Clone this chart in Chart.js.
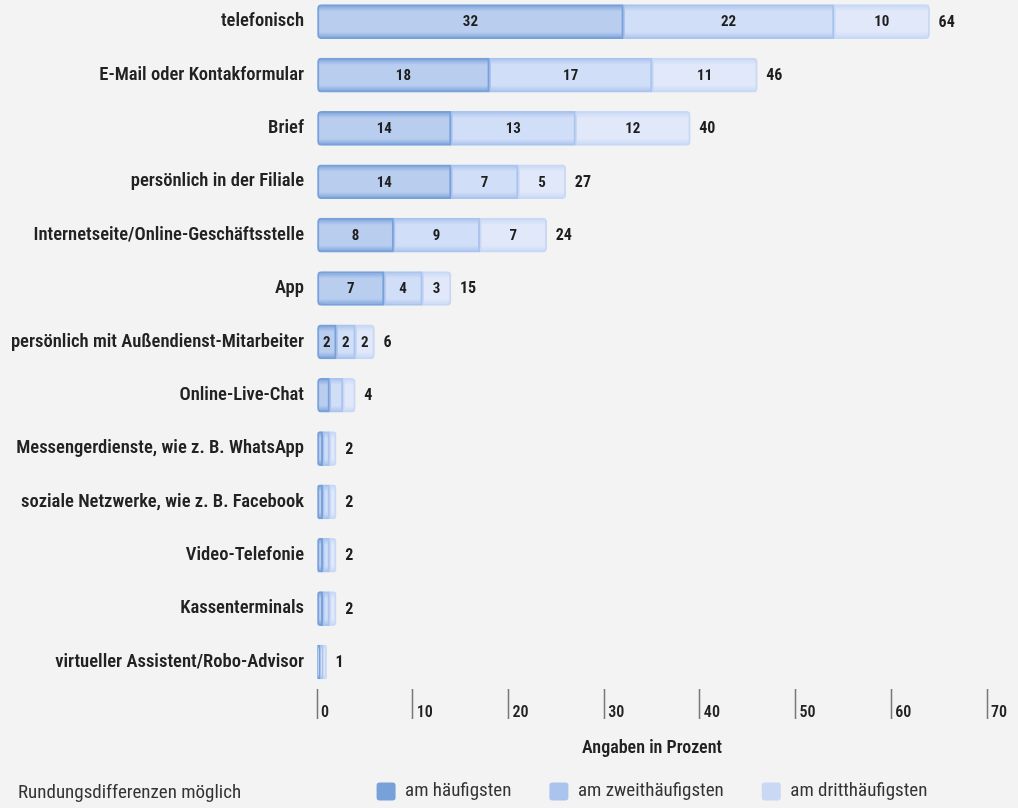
<!DOCTYPE html>
<html>
<head>
<meta charset="utf-8">
<script src="https://cdn.jsdelivr.net/npm/chart.js@4.4.0/dist/chart.umd.min.js"></script>
<style>
  html, body { margin: 0; padding: 0; background: #f2f3f2; }
  canvas { display: block; }
</style>
</head>
<body>
<canvas id="chart" width="1018" height="808"></canvas>
<script>
// Data
const categories = [
    "telefonisch",
    "E-Mail oder Kontakformular",
    "Brief",
    "persönlich in der Filiale",
    "Internetseite/Online-Geschäftsstelle",
    "App",
    "persönlich mit Außendienst-Mitarbeiter",
    "Online-Live-Chat",
    "Messengerdienste, wie z. B. WhatsApp",
    "soziale Netzwerke, wie z. B. Facebook",
    "Video-Telefonie",
    "Kassenterminals",
    "virtueller Assistent/Robo-Advisor"
];
const mostOften   = [32, 18, 14, 14, 8, 7, 2, 1.3, 0.6, 0.6, 0.6, 0.6, 0.3];
const secondOften = [22, 17, 13, 7, 9, 4, 2, 1.4, 0.7, 0.7, 0.7, 0.7, 0.3];
const thirdOften  = [10, 11, 12, 5, 7, 3, 2, 1.3, 0.7, 0.7, 0.7, 0.7, 0.4];
const totals      = [64, 46, 40, 27, 24, 15, 6, 4, 2, 2, 2, 2, 1];
const xTicks = [0, 10, 20, 30, 40, 50, 60, 70];
const seriesNames = ["am häufigsten", "am zweithäufigsten", "am dritthäufigsten"];
const axisTitle = "Angaben in Prozent";
const footnote = "Rundungsdifferenzen möglich";

const FONT = "'Roboto Condensed', 'DejaVu Sans Condensed', sans-serif";
Chart.defaults.font.family = FONT;
Chart.defaults.color = "#222";

const BAR_H = 34;
const innerColors = ["#b9cdef", "#d1def7", "#e0e8fa"];
const edgeColors = ["#78a1da", "#abc4ee", "#c8d8f5"];

// bars get a soft darker edge at top and bottom
function glow(i) {
    return (context) => {
        const chart = context.chart;
        const ys = chart.scales.y;
        if (!ys || context.type !== "data") return innerColors[i];
        const yc = ys.getPixelForValue(context.dataIndex);
        const g = chart.ctx.createLinearGradient(0, yc - BAR_H / 2, 0, yc + BAR_H / 2);
        g.addColorStop(0, edgeColors[i]);
        g.addColorStop(0.2, innerColors[i]);
        g.addColorStop(0.8, innerColors[i]);
        g.addColorStop(1, edgeColors[i]);
        return g;
    };
}

// segment values inside the bars, totals at the end of each bar
const valueLabels = {
    id: "valueLabels",
    afterDatasetsDraw(chart) {
        const ctx = chart.ctx;
        ctx.save();
        ctx.fillStyle = "#1e1e1e";
        ctx.textBaseline = "middle";
        chart.data.datasets.forEach((ds, i) => {
            const meta = chart.getDatasetMeta(i);
            meta.data.forEach((bar, j) => {
                const v = ds.data[j];
                if (v < 2) return;
                ctx.font = "bold 15px " + FONT;
                ctx.textAlign = "center";
                ctx.fillText(String(v), (bar.x + bar.base) / 2, bar.y + 1);
            });
        });
        const last = chart.getDatasetMeta(chart.data.datasets.length - 1);
        last.data.forEach((bar, j) => {
            ctx.font = "bold 16px " + FONT;
            ctx.textAlign = "left";
            ctx.fillText(String(totals[j]), bar.x + 9, bar.y + 1);
        });
        ctx.restore();
    },
    afterDraw(chart) {
        const ctx = chart.ctx;
        ctx.save();
        ctx.font = "19px " + FONT;
        ctx.fillStyle = "#333";
        ctx.textAlign = "left";
        ctx.textBaseline = "middle";
        ctx.fillText(footnote, 18, 793);
        ctx.restore();
    }
};

function dataset(i, values, radius) {
    return {
        label: seriesNames[i],
        data: values,
        backgroundColor: glow(i),
        borderColor: edgeColors[i],
        borderWidth: 2,
        borderSkipped: false,
        borderRadius: radius,
        barThickness: BAR_H,
        clip: false
    };
}

new Chart(document.getElementById("chart"), {
    type: "bar",
    data: {
        labels: categories,
        datasets: [
            dataset(0, mostOften, { topLeft: 4, bottomLeft: 4 }),
            dataset(1, secondOften, 0),
            dataset(2, thirdOften, { topRight: 4, bottomRight: 4 })
        ]
    },
    options: {
        indexAxis: "y",
        responsive: false,
        animation: false,
        layout: { padding: { top: 21.7, right: 31, bottom: 0, left: 0 } },
        scales: {
            x: {
                stacked: true,
                min: 0,
                max: 70,
                afterBuildTicks: (scale) => { scale.ticks = xTicks.map(v => ({ value: v })); },
                afterFit: (scale) => { scale.height = 82; },
                border: { display: false },
                grid: {
                    drawOnChartArea: false,
                    drawTicks: true,
                    tickLength: 57,
                    tickBorderDash: [0, 27, 30, 200],
                    tickColor: "#777",
                    tickWidth: 1.5
                },
                ticks: {
                    align: "start",
                    labelOffset: 4,
                    padding: -16,
                    font: { size: 16, weight: "600" },
                    color: "#222"
                },
                title: {
                    display: true,
                    text: axisTitle,
                    font: { size: 18, weight: "600" },
                    color: "#222",
                    padding: { top: 0, bottom: -14.8 }
                }
            },
            y: {
                stacked: true,
                offset: false,
                afterFit: (scale) => { scale.width = 317; },
                border: { display: false },
                grid: {
                    drawOnChartArea: false,
                    drawTicks: true,
                    tickLength: 13,
                    tickColor: "rgba(0,0,0,0)"
                },
                ticks: {
                    padding: 0,
                    font: { size: 18.6, weight: "600" },
                    color: "#222"
                }
            }
        },
        plugins: {
            legend: {
                position: "bottom",
                fullSize: false,
                maxHeight: 64,
                labels: {
                    boxWidth: 19,
                    boxHeight: 18,
                    padding: 38,
                    useBorderRadius: true,
                    borderRadius: 3,
                    color: "#333",
                    font: { size: 19 },
                    generateLabels: (chart) => {
                        const items = Chart.defaults.plugins.legend.labels.generateLabels(chart);
                        items.forEach((it, i) => {
                            it.fillStyle = edgeColors[i];
                            it.strokeStyle = edgeColors[i];
                            it.lineWidth = 0;
                        });
                        return items;
                    }
                }
            },
            tooltip: { enabled: false }
        }
    },
    plugins: [valueLabels]
});
</script>
</body>
</html>
